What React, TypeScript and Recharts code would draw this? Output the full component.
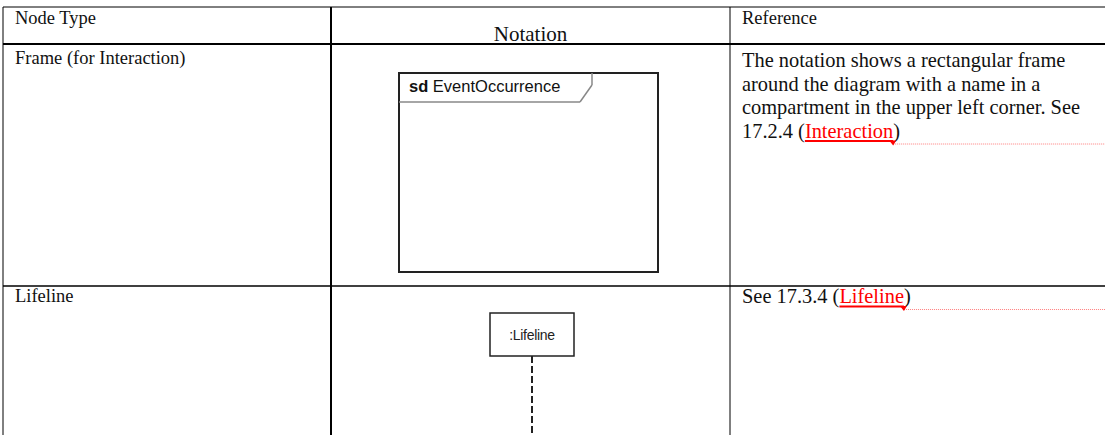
import { ComposedChart, XAxis, YAxis, ReferenceLine, ReferenceArea, Customized } from "recharts";

const W = 1105;
const H = 435;

// table content
const HEADERS = ["Node Type", "Notation", "Reference"];
const NODE_TYPES = ["Frame (for Interaction)", "Lifeline"];
const FRAME_REF_LINES = [
  "The notation shows a rectangular frame",
  "around the diagram with a name in a",
  "compartment in the upper left corner. See",
];
const REF_PREFIXES = ["17.2.4 (", "See 17.3.4 ("];
const REF_LINKS = ["Interaction", "Lifeline"];
const FRAME_KEYWORD = "sd";
const FRAME_NAME = "EventOccurrence";
const LIFELINE_NAME = ":Lifeline";

// layout (px, chart domain == pixels)
const COL_X = [3, 331, 730];
const ROW_Y = [7, 44, 286];
const FRAME = { x1: 399, y1: 73, x2: 658, y2: 272 };
const TAB = { right: 592, cut: 580, mid: 85, bottom: 102 };
const LIFE = { x1: 490, y1: 313, x2: 574, y2: 356 };

const SERIF = '"Liberation Serif", "Times New Roman", serif';
const SANS = '"Liberation Sans", Arial, sans-serif';
const RED = "#ff0000";
const LABEL_SIZE = 18.5;
const BODY_SIZE = 20.4;
const LINE_GAP = 23.5;

let ctx: CanvasRenderingContext2D | null = null;
function textWidth(s: string, size: number) {
  if (!ctx) ctx = document.createElement("canvas").getContext("2d");
  if (!ctx) return s.length * size * 0.45;
  ctx.font = `${size}px "Liberation Serif"`;
  return ctx.measureText(s).width;
}

function TableText() {
  const refX = COL_X[2] + 12;
  const labelX = COL_X[0] + 12;
  const linkRows = [
    { y: 67 + 3 * LINE_GAP, prefix: REF_PREFIXES[0], link: REF_LINKS[0] },
    { y: 303, prefix: REF_PREFIXES[1], link: REF_LINKS[1] },
  ];
  return (
    <g>
      <text x={labelX} y={24} fontFamily={SERIF} fontSize={LABEL_SIZE} fill="#111">{HEADERS[0]}</text>
      <text x={(COL_X[1] + COL_X[2]) / 2} y={41} fontFamily={SERIF} fontSize={21} fill="#111" textAnchor="middle">{HEADERS[1]}</text>
      <text x={refX} y={24} fontFamily={SERIF} fontSize={LABEL_SIZE} fill="#111">{HEADERS[2]}</text>

      <text x={labelX} y={64} fontFamily={SERIF} fontSize={LABEL_SIZE} fill="#111">{NODE_TYPES[0]}</text>
      <text x={labelX} y={302} fontFamily={SERIF} fontSize={LABEL_SIZE} fill="#111">{NODE_TYPES[1]}</text>

      {FRAME_REF_LINES.map((t, i) => (
        <text key={t} x={refX} y={67 + i * LINE_GAP} fontFamily={SERIF} fontSize={BODY_SIZE} fill="#111">{t}</text>
      ))}

      {linkRows.map((r) => {
        const x0 = refX + textWidth(r.prefix, BODY_SIZE);
        const x1 = x0 + textWidth(r.link, BODY_SIZE);
        return (
          <g key={r.link}>
            <text x={refX} y={r.y} fontFamily={SERIF} fontSize={BODY_SIZE} fill="#111">
              {r.prefix}
              <tspan fill={RED}>{r.link}</tspan>
              <tspan fill="#111">)</tspan>
            </text>
            <line x1={x0} x2={x1} y1={r.y + 3.5} y2={r.y + 3.5} stroke={RED} strokeWidth={2} />
            <polygon points={`${x1 - 4},${r.y + 3} ${x1 + 3},${r.y + 3} ${x1},${r.y + 8}`} fill={RED} />
            <line x1={x1} x2={W} y1={r.y + 6.5} y2={r.y + 6.5} stroke={RED} strokeWidth={1} strokeDasharray="1 1" opacity={0.5} />
          </g>
        );
      })}

      <text x={FRAME.x1 + 10} y={FRAME.y1 + 19} fontFamily={SANS} fontSize={16.5} fill="#111">
        <tspan fontWeight="bold">{FRAME_KEYWORD}</tspan> {FRAME_NAME}
      </text>
      <text x={(LIFE.x1 + LIFE.x2) / 2} y={(LIFE.y1 + LIFE.y2) / 2 + 5} fontFamily={SANS} fontSize={14} fill="#222" textAnchor="middle" letterSpacing={-0.3}>
        {LIFELINE_NAME}
      </text>
    </g>
  );
}

export default function App() {
  return (
    <div style={{ position: "absolute", left: 0, top: 0, width: W, height: H, background: "#fff" }}>
      <ComposedChart width={W} height={H} data={[{ x: 0, y: 0 }]} margin={{ top: 0, right: 0, bottom: 0, left: 0 }}>
        <XAxis type="number" dataKey="x" domain={[0, W]} hide allowDataOverflow />
        <YAxis type="number" dataKey="y" domain={[0, H]} reversed hide allowDataOverflow />

        {/* table grid */}
        <ReferenceLine segment={[{ x: COL_X[0], y: ROW_Y[0] }, { x: W, y: ROW_Y[0] }]} stroke="#000" strokeWidth={1} ifOverflow="visible" />
        <ReferenceLine segment={[{ x: COL_X[0], y: ROW_Y[1] }, { x: W, y: ROW_Y[1] }]} stroke="#000" strokeWidth={2} ifOverflow="visible" />
        <ReferenceLine segment={[{ x: COL_X[0], y: ROW_Y[2] }, { x: W, y: ROW_Y[2] }]} stroke="#000" strokeWidth={1.5} ifOverflow="visible" />
        <ReferenceLine segment={[{ x: COL_X[0], y: ROW_Y[0] }, { x: COL_X[0], y: H }]} stroke="#000" strokeWidth={1} ifOverflow="visible" />
        <ReferenceLine segment={[{ x: COL_X[1], y: ROW_Y[0] }, { x: COL_X[1], y: H }]} stroke="#000" strokeWidth={2} ifOverflow="visible" />
        <ReferenceLine segment={[{ x: COL_X[2], y: ROW_Y[0] }, { x: COL_X[2], y: H }]} stroke="#000" strokeWidth={1} ifOverflow="visible" />

        {/* interaction frame */}
        <ReferenceArea x1={FRAME.x1} x2={FRAME.x2} y1={FRAME.y1} y2={FRAME.y2} fill="none" stroke="#222" strokeWidth={2} ifOverflow="visible" />
        <ReferenceLine segment={[{ x: TAB.right, y: FRAME.y1 }, { x: TAB.right, y: TAB.mid }]} stroke="#888" strokeWidth={1.5} ifOverflow="visible" />
        <ReferenceLine segment={[{ x: TAB.right, y: TAB.mid }, { x: TAB.cut, y: TAB.bottom }]} stroke="#888" strokeWidth={1.5} ifOverflow="visible" />
        <ReferenceLine segment={[{ x: TAB.cut, y: TAB.bottom }, { x: FRAME.x1, y: TAB.bottom }]} stroke="#888" strokeWidth={1.5} ifOverflow="visible" />

        {/* lifeline */}
        <ReferenceArea x1={LIFE.x1} x2={LIFE.x2} y1={LIFE.y1} y2={LIFE.y2} fill="none" stroke="#222" strokeWidth={1.5} ifOverflow="visible" />
        <ReferenceLine segment={[{ x: (LIFE.x1 + LIFE.x2) / 2, y: LIFE.y2 }, { x: (LIFE.x1 + LIFE.x2) / 2, y: H }]} stroke="#222" strokeWidth={2} strokeDasharray="7 3" ifOverflow="visible" />

        <Customized component={<TableText />} />
      </ComposedChart>
    </div>
  );
}
